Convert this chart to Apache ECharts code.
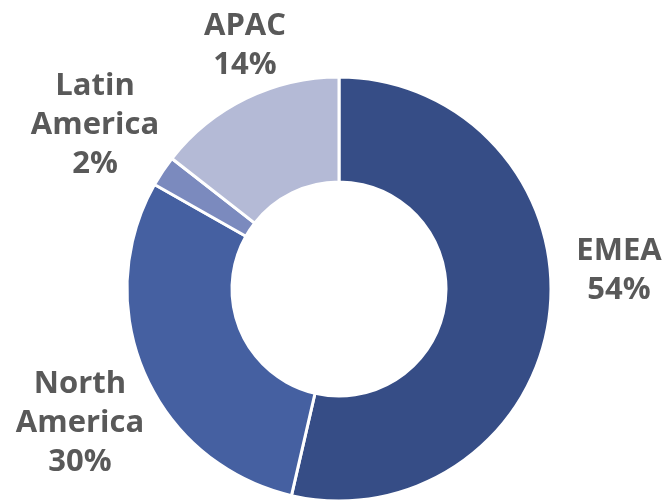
<!DOCTYPE html>
<html>
<head>
<meta charset="utf-8">
<title>Revenue by region</title>
<script src="https://cdn.jsdelivr.net/npm/echarts@6/dist/echarts.min.js"></script>
<style>
  html, body { margin: 0; padding: 0; background: #ffffff; }
  #chart { width: 669px; height: 501px; }
</style>
</head>
<body>
<div id="chart"></div>
<script>
  // 数据 (shares, labels show rounded values)
  var regions = ['EMEA', 'North America', 'Latin America', 'APAC'];
  var shares = [53.6, 29.6, 2.35, 14.45];
  var colors = ['#364d86', '#4560a1', '#7b8abe', '#b4bad6'];

  // label centres (layout only)
  var labelPos = [[619, 271], [80, 423], [95, 125], [245, 46]];

  var myChart = echarts.init(document.getElementById('chart'));
  var option = {
    backgroundColor: '#ffffff',
    animation: false,
    series: [{
      type: 'pie',
      center: [339, 289],
      radius: [107, 212],
      startAngle: 90,
      clockwise: true,
      avoidLabelOverlap: false,
      itemStyle: {
        borderColor: '#ffffff',
        borderWidth: 3
      },
      label: {
        show: true,
        position: 'outside',
        fontFamily: 'Open Sans',
        fontWeight: 'bold',
        fontSize: 31,
        lineHeight: 39,
        color: '#595959',
        align: 'center',
        formatter: function (p) {
          return p.name.replace(' ', '\n') + '\n' + Math.round(p.value) + '%';
        }
      },
      labelLine: { show: false },
      labelLayout: function (p) {
        var pos = labelPos[p.dataIndex];
        return { x: pos[0], y: pos[1], align: 'center', verticalAlign: 'middle' };
      },
      data: regions.map(function (name, i) {
        return { name: name, value: shares[i], itemStyle: { color: colors[i] } };
      })
    }]
  };
  myChart.setOption(option);
</script>
</body>
</html>
